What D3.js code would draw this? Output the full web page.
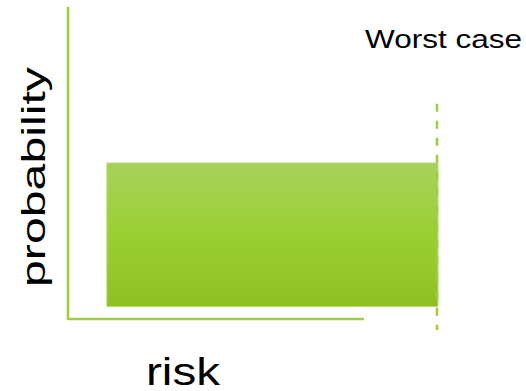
<!DOCTYPE html>
<html>
<head>
<meta charset="utf-8">
<script src="https://cdn.jsdelivr.net/npm/d3@7"></script>
<style>
  html, body { margin: 0; padding: 0; background: #fff; }
  svg { display: block; font-family: "Liberation Sans", Arial, sans-serif; }
</style>
</head>
<body>
<svg id="chart" width="526" height="391"></svg>
<script>
// Risk range vs. probability, with the worst case marked
const riskRange = [10.5, 100];     // span of outcomes on the risk axis
const probability = [4, 50];       // probability band of the range
const riskAxisExtent = [0, 80];    // drawn length of the risk axis
const probAxisExtent = [0, 100];   // drawn length of the probability axis
const worstCase = 100;             // risk value of the worst case
const worstCaseSpan = [-3.5, 69];  // vertical reach of the worst-case marker
const labels = { x: "risk", y: "probability", worst: "Worst case" };

const svg = d3.select("#chart");
const x = d3.scaleLinear().domain([0, 100]).range([68, 438]);
const y = d3.scaleLinear().domain([0, 100]).range([319, 7]);

const defs = svg.append("defs");
const grad = defs.append("linearGradient")
  .attr("id", "barFill").attr("x1", 0).attr("y1", 0).attr("x2", 0).attr("y2", 1);
grad.append("stop").attr("offset", "0%").attr("stop-color", "#a7d25c");
grad.append("stop").attr("offset", "50%").attr("stop-color", "#9bcf31");
grad.append("stop").attr("offset", "100%").attr("stop-color", "#8fc023");

// range box
svg.append("rect")
  .attr("x", x(riskRange[0]))
  .attr("y", y(probability[1]))
  .attr("width", x(riskRange[1]) - x(riskRange[0]))
  .attr("height", y(probability[0]) - y(probability[1]))
  .attr("fill", "url(#barFill)")
  .attr("stroke", "#b6dc78")
  .attr("stroke-width", 1);

// axes as plain lines
const axisColor = "#9ccf3a";
svg.append("line")
  .attr("x1", x(0)).attr("x2", x(0))
  .attr("y1", y(probAxisExtent[1])).attr("y2", y(probAxisExtent[0]) + 1)
  .attr("stroke", axisColor).attr("stroke-width", 2.5);
svg.append("line")
  .attr("x1", x(riskAxisExtent[0]) - 1).attr("x2", x(riskAxisExtent[1]))
  .attr("y1", y(0)).attr("y2", y(0))
  .attr("stroke", axisColor).attr("stroke-width", 2.5);

// worst-case marker
svg.append("line")
  .attr("x1", x(worstCase) - 1).attr("x2", x(worstCase) - 1)
  .attr("y1", y(worstCaseSpan[1])).attr("y2", y(worstCaseSpan[0]))
  .attr("stroke", "#9ccf3a").attr("stroke-width", 2.5)
  .attr("stroke-dasharray", "8,9");

// labels (stretched along their reading direction)
svg.append("text")
  .attr("x", 146).attr("y", 385)
  .attr("font-size", 38).attr("fill", "#000")
  .attr("textLength", 74).attr("lengthAdjust", "spacingAndGlyphs")
  .text(labels.x);

svg.append("text")
  .attr("transform", "translate(45,287) rotate(-90)")
  .attr("font-size", 34).attr("fill", "#000")
  .attr("textLength", 220).attr("lengthAdjust", "spacingAndGlyphs")
  .text(labels.y);

svg.append("text")
  .attr("x", 365).attr("y", 48)
  .attr("font-size", 26.5).attr("fill", "#000")
  .attr("textLength", 157).attr("lengthAdjust", "spacingAndGlyphs")
  .text(labels.worst);
</script>
</body>
</html>
